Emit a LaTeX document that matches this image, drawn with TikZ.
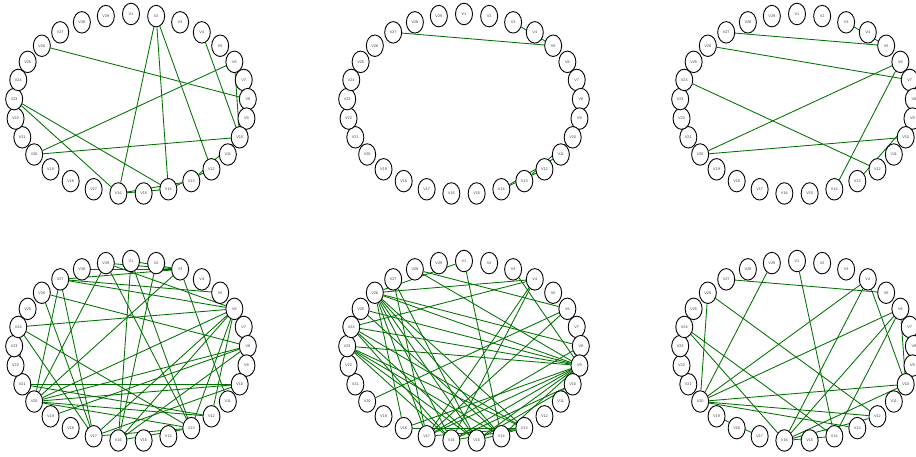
\documentclass[tikz,border=0pt]{standalone}
\usepackage{fontspec}
\setsansfont{Liberation Sans}
\usetikzlibrary{shapes.geometric, backgrounds}
\definecolor{edgegreen}{RGB}{0,112,0}

\begin{document}
\begin{tikzpicture}[x=1pt, y=-1pt,
    vertex/.style={ellipse, draw=black, line width=0.9pt, fill=white,
        minimum width=17pt, minimum height=21.5pt, inner sep=0pt,
        font=\sffamily\fontsize{3.8}{4}\selectfont, text=black!75},
    link/.style={draw=edgegreen, line width=0.85pt}]
    % --- FRAME ---
    \useasboundingbox (0,0) rectangle (916,457);
    \def\Rx{117} % horizontal radius of the ring
    \def\Ry{90}  % vertical radius of the ring

    % --- VERTICES: six rings of 29 nodes ---
    \foreach \p/\cx/\cy in {a/131/104, b/464/104, c/797/104, d/131/351, e/464/351, f/797/351} {
        \foreach \k in {1,...,29}
            \node[vertex] (\p v\k) at ({\cx+\Rx*cos(90-(\k-1)*360/29)}, {\cy-\Ry*sin(90-(\k-1)*360/29)}) {V\k};
    }

    % --- EDGES (behind the vertices) ---
    \begin{pgfonlayer}{background}
        % top left
        \foreach \s/\t in {2/16, 2/14, 2/12, 4/10, 26/8, 6/20, 20/10, 23/14, 23/16, 6/10,
                           16/13, 16/14, 14/12, 13/10}
            \draw[link] (av\s) -- (av\t);
        % top middle
        \foreach \s/\t in {27/5, 3/5, 10/13, 11/14, 12/14}
            \draw[link] (bv\s) -- (bv\t);
        % top right
        \foreach \s/\t in {27/5, 3/5, 26/7, 6/20, 6/14, 24/12, 20/10, 9/13}
            \draw[link] (cv\s) -- (cv\t);
        % bottom left
        \foreach \s/\t in {29/3, 1/3, 28/3, 27/3, 27/5, 27/6, 29/6, 1/16, 1/13, 29/13,
                           2/16, 3/20, 3/11, 24/6, 26/8, 24/13, 24/17, 26/17, 27/17, 27/20,
                           29/20, 6/20, 6/17, 6/16, 6/13, 6/12, 8/20, 8/19, 8/16, 10/20,
                           10/21, 10/17, 21/12, 20/12, 20/13, 16/13, 17/13, 24/21}
            \draw[link] (dv\s) -- (dv\t);
        % bottom middle
        \foreach \s/\t in {1/26, 1/14, 28/6, 28/9, 26/4, 24/4, 3/9, 4/16, 4/17, 6/20,
                           6/17, 26/8, 26/9, 26/13, 26/14, 26/15, 26/16, 26/17, 26/18,
                           24/9, 24/13, 24/15, 24/16, 23/9, 23/13, 23/14, 23/15, 23/16,
                           25/9, 25/14, 27/17, 27/15, 9/18, 9/17, 9/16, 9/15, 9/14,
                           10/16, 10/15, 8/17, 18/13, 17/13, 16/13, 15/13}
            \draw[link] (ev\s) -- (ev\t);
        % bottom right
        \foreach \s/\t in {27/5, 29/20, 26/20, 26/12, 24/16, 24/14, 1/14, 4/20, 4/16, 4/10,
                           6/20, 6/16, 6/14, 6/10, 20/10, 20/12, 20/13, 10/16, 16/12,
                           16/14, 19/17}
            \draw[link] (fv\s) -- (fv\t);
    \end{pgfonlayer}
\end{tikzpicture}
\end{document}
